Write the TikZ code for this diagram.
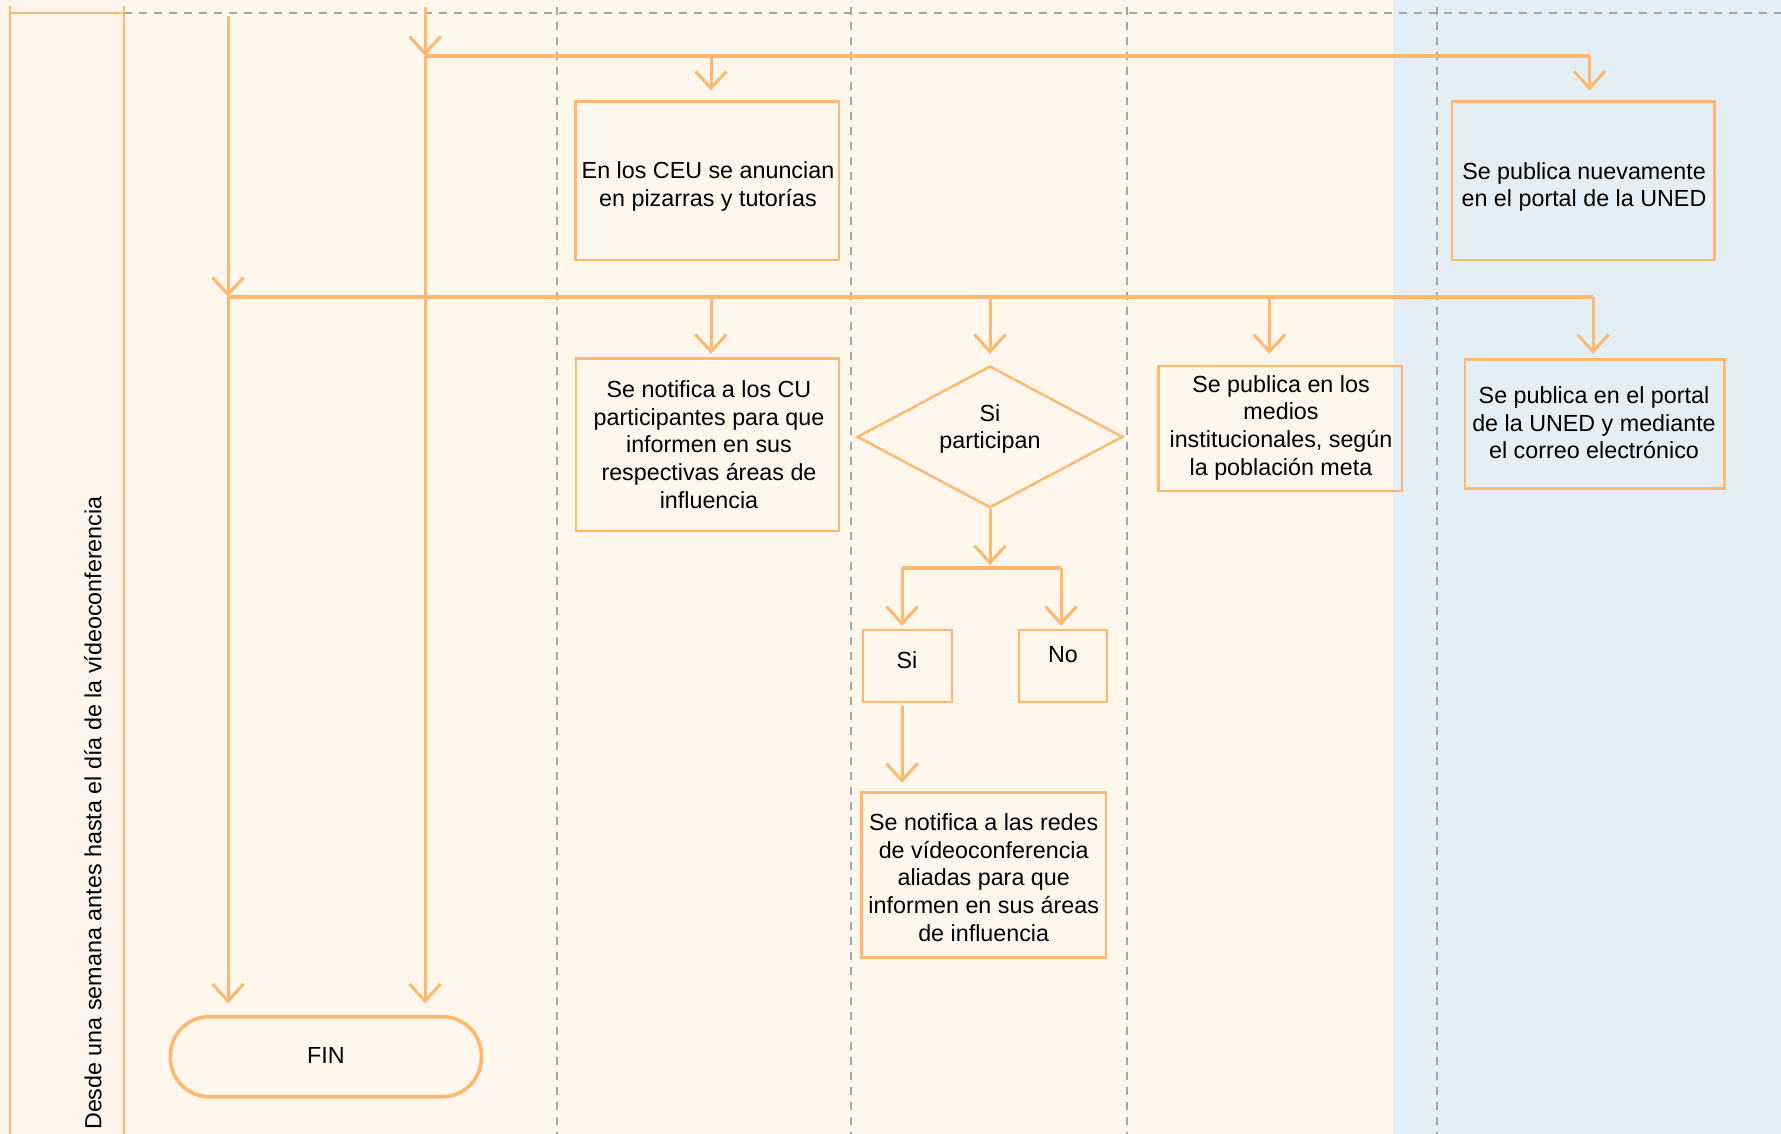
\documentclass[tikz,border=0pt]{standalone}
\usepackage{fontspec}
\setmainfont{Liberation Sans}
\usetikzlibrary{arrows.meta,shapes.geometric,calc}
\definecolor{ln}{RGB}{254,184,112}
\definecolor{creambg}{RGB}{255,247,235}
\definecolor{lanebg}{RGB}{255,245,237}
\definecolor{bluebg}{RGB}{227,239,244}
\definecolor{dashgrey}{RGB}{166,166,166}
\begin{document}
\begin{tikzpicture}[x=1pt,y=-1pt,
  every node/.style={font=\fontsize{23.3pt}{27.8pt}\selectfont, text=black},
  boxs/.style={draw=ln, line width=2.4pt, rectangle, inner sep=0pt},
  lbl/.style={align=center, inner sep=0pt},
  vln/.style={draw=ln, line width=3pt},
  hln/.style={draw=ln, line width=3.8pt},
  arr/.style={-{Straight Barb[length=17pt,width=31pt,line width=3pt]}},
  sep/.style={draw=dashgrey, line width=2pt, dash pattern=on 8pt off 7pt},
  laneln/.style={draw=ln, line width=2pt}]
\useasboundingbox (0,0) rectangle (1781,1134);
% backgrounds
\fill[lanebg] (0,0) rectangle (124.4,1134);
\fill[creambg] (124.4,0) rectangle (1393,1134);
\fill[bluebg] (1393,0) rectangle (1781,1134);
% lane separators
\draw[sep] (124.4,13.3) -- (1781,13.3);
\foreach \xx in {556.8,850.8,1126.8,1437}{\draw[sep] (\xx,6.7) -- (\xx,1134);}
\draw[laneln] (9.6,6) -- (9.6,1134);
\draw[laneln] (124.4,6) -- (124.4,1134);
\draw[laneln] (9.6,13.3) -- (124.4,13.3);
% lane label
\node[rotate=90, anchor=west, inner sep=0pt] (lanelabel) at (93,1130) {Desde una semana antes hasta el día de la vídeoconferencia};
% nodes
\node[boxs, minimum width=263.7pt, minimum height=158.3pt] (b1) at (707.2,180.85) {};
\node[lbl] (t1txt) at (708,186.4) {En los CEU se anuncian\\en pizarras y tutorías};
\node[boxs, minimum width=262.7pt, minimum height=158.3pt] (b2) at (1583.2,180.85) {};
\node[lbl] (t2txt) at (1584,187) {Se publica nuevamente\\en el portal de la UNED};
\node[boxs, minimum width=263pt, minimum height=172.4pt] (b3) at (707.2,444.5) {};
\node[lbl] (t3txt) at (709,444.5) {Se notifica a los CU\\participantes para que\\informen en sus\\respectivas áreas de\\influencia};
\node[draw=ln, line width=2.4pt, diamond, inner sep=0pt, minimum width=265.7pt, minimum height=141.7pt] (dia) at (990,436.85) {};
\node[lbl] (diatxt) at (990,429) {Si\\participan};
\node[boxs, minimum width=243.2pt, minimum height=125pt] (b4) at (1280.2,428.5) {};
\node[lbl] (t4txt) at (1281,427.7) {Se publica en los\\medios\\institucionales, según\\la población meta};
\node[boxs, minimum width=259.7pt, minimum height=129pt] (b5) at (1594.6,423.8) {};
\node[lbl] (t5txt) at (1594,422.8) {Se publica en el portal\\de la UNED y mediante\\el correo electrónico};
\node[boxs, minimum width=88.5pt, minimum height=71.5pt] (bsi) at (907.5,666) {};
\node[lbl] (sitxt) at (907,660) {Si};
\node[boxs, minimum width=88pt, minimum height=71.5pt] (bno) at (1062.7,666) {};
\node[lbl] (notxt) at (1063,655) {No};
\node[boxs, minimum width=244.7pt, minimum height=165pt] (b6) at (983.7,874.8) {};
\node[lbl] (t6txt) at (983.7,877.5) {Se notifica a las redes\\de vídeoconferencia\\aliadas para que\\informen en sus áreas\\de influencia};
\node[draw=ln, line width=3.6pt, rectangle, rounded corners=39pt, minimum width=311pt, minimum height=80pt, inner sep=0pt] (fin) at (325.9,1056.7) {};
\node[lbl] (fintxt) at (326,1055) {FIN};
% junction coordinates
\coordinate (s1) at (228,15.7);
\coordinate (j1) at (228,296.7);
\coordinate (s2) at (425,6.7);
\coordinate (j2) at (425,55.7);
\coordinate (h1e) at (1589.5,55.7);
\coordinate (h2e) at (1593,296.7);
\coordinate (d1) at (711,55.7);
\coordinate (d3) at (711,296.7);
\coordinate (dd) at (990,296.7);
\coordinate (d4) at (1269.4,296.7);
\coordinate (split) at (990,568.3);
\coordinate (sl) at (902,568.3);
\coordinate (sr) at (1061,568.3);
% connectors
\draw[vln, arr] (s2) -- (j2);
\draw[hln] (j2) -- (h1e);
\draw[vln, arr, shorten >=10pt] (d1) -- (d1 |- b1.north);
\draw[vln, arr, shorten >=10pt] (h1e) -- (h1e |- b2.north);
\draw[vln, arr] (s1) -- (j1);
\draw[hln] (j1) -- (h2e);
\draw[vln, arr, shorten >=3.3pt] (d3) -- (d3 |- b3.north);
\draw[vln, arr, shorten >=11pt] (dd) -- (dia.north);
\draw[vln, arr, shorten >=11pt] (d4) -- (d4 |- b4.north);
\draw[vln, arr, shorten >=4.3pt] (h2e) -- (h2e |- b5.north);
\draw[vln, arr, shorten >=3.3pt] (dia.south) -- (split);
\draw[hln] (sl) -- (sr);
\draw[vln, arr, shorten >=3.3pt] (sl) -- (sl |- bsi.north);
\draw[vln, arr, shorten >=3.3pt] (sr) -- (sr |- bno.north);
\draw[vln, arr, shorten <=3pt, shorten >=8.3pt] (sl |- bsi.south) -- (sl |- b6.north);
\draw[vln, arr, shorten >=11.7pt] (j1) -- (j1 |- fin.north);
\draw[vln, arr, shorten >=11.7pt] (j2) -- (j2 |- fin.north);
\end{tikzpicture}
\end{document}
